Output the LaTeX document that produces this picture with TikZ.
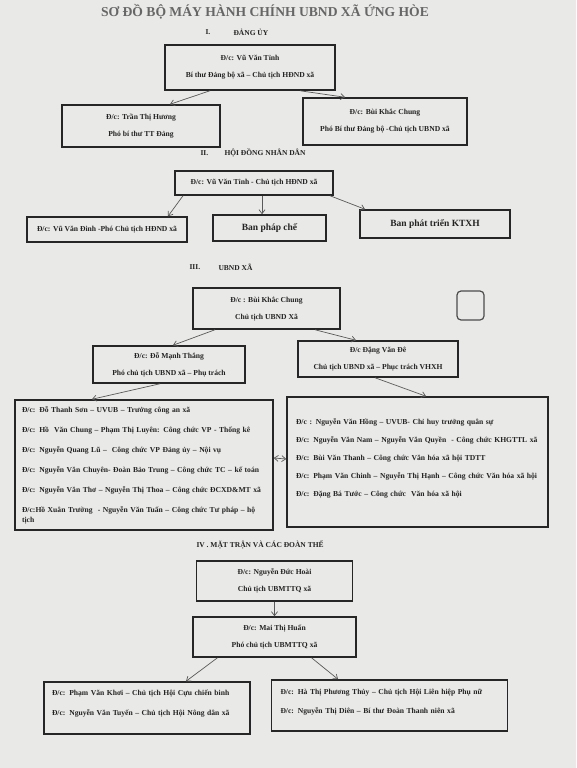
\documentclass[tikz,border=0pt]{standalone}
\usepackage{fontspec}
\setmainfont{Liberation Serif}
\usepackage{tikz}
\usetikzlibrary{arrows.meta}

\definecolor{paper}{RGB}{233,233,231}
\definecolor{ink}{RGB}{35,35,35}

\begin{document}
\begin{tikzpicture}[
    x=1pt, y=-1pt,
    font=\bfseries\fontsize{7.6}{9}\selectfont,
    >={Straight Barb[length=4pt,width=6pt]},
    box/.style 2 args={draw=black!85, line width=1.5pt, align=center, inner sep=0pt,
      text=ink, minimum width=#1, minimum height=#2},
    listbox/.style 2 args={draw=black!85, line width=1.5pt, align=left, inner ysep=0pt,
      inner xsep=7pt, text=ink, text width=#1-14pt, minimum height=#2},
    ptr/.style={->, gray!70!black, line width=0.7pt},
    hd/.style={anchor=west, text=ink, font=\bfseries\fontsize{7.5}{9}\selectfont}
  ]
    \fill[paper] (0,0) rectangle (576,768);

    \node[text=black!60, font=\bfseries\fontsize{13.6}{15}\selectfont] (title) at (265,12)
      {SƠ ĐỒ BỘ MÁY HÀNH CHÍNH UBND XÃ ỨNG HÒE};

    % I. Dang uy
    \node[hd] (h1num) at (202,32) {I.};
    \node[hd] (h1) at (230,32) {ĐẢNG ỦY};
    \node[box={170pt}{45pt}] (tinh) at (250,67.5) {Đ/c: Vũ Văn Tỉnh\\[8pt]Bí thư Đảng bộ xã – Chủ tịch HĐND xã};
    \node[box={158pt}{42pt}] (huong) at (141,126) {Đ/c: Trần Thị Hương\\[8pt]Phó bí thư TT Đảng};
    \node[box={164pt}{47pt}] (chung) at (385,121.5) {Đ/c: Bùi Khắc Chung\\[8pt]Phó Bí thư Đảng bộ -Chủ tịch UBND xã};
    \draw[ptr] ([xshift=-40pt]tinh.south) -- ([xshift=29pt]huong.north);
    \draw[ptr] ([xshift=50pt]tinh.south) -- ([xshift=-40pt]chung.north);

    % II. HDND
    \node[hd] (h2num) at (197,153) {II.};
    \node[hd] (h2) at (221,153) {HỘI ĐỒNG NHÂN DÂN};
    \node[box={158pt}{24pt}] (hdnd) at (254,183) {Đ/c: Vũ Văn Tỉnh - Chủ tịch HĐND xã};
    \node[box={160pt}{25pt}] (dinh) at (107,229.5) {Đ/c: Vũ Văn Đinh -Phó Chủ tịch HĐND xã};
    \node[box={113pt}{26pt}, font=\bfseries\fontsize{9.5}{11}\selectfont] (phapche) at (269.5,228) {Ban pháp chế};
    \node[box={150pt}{28pt}, font=\bfseries\fontsize{9.5}{11}\selectfont] (ktxh) at (435,224) {Ban phát triển KTXH};
    \draw[ptr] ([xshift=-71pt]hdnd.south) -- ([xshift=61pt]dinh.north);
    \draw[ptr] ([xshift=8pt]hdnd.south) -- ([xshift=-7.5pt]phapche.north);
    \draw[ptr] ([xshift=76pt]hdnd.south) -- ([xshift=-70pt]ktxh.north);

    % III. UBND xa
    \node[hd] (h3num) at (186,267) {III.};
    \node[hd] (h3) at (215,267) {UBND XÃ};
    \node[box={147pt}{41pt}] (ubnd) at (266.5,308.5) {Đ/c : Bùi Khắc Chung\\[8pt]Chủ tịch UBND Xã};
    \node[draw=black!70, line width=1.2pt, rounded corners=4pt, minimum width=27pt, minimum height=29pt] (blank) at (470.5,305.5) {};
    \node[box={152pt}{37pt}] (thang) at (169,364.5) {Đ/c: Đỗ Mạnh Thắng\\[8pt]Phó chủ tịch UBND xã – Phụ trách};
    \node[box={160pt}{36pt}] (de) at (378,359) {Đ/c Đặng Văn Đê\\[8pt]Chủ tịch UBND xã – Phục trách VHXH};
    \draw[ptr] ([xshift=-51.5pt]ubnd.south) -- ([xshift=4pt]thang.north);
    \draw[ptr] ([xshift=48.5pt]ubnd.south) -- ([xshift=-22pt]de.north);

    \node[listbox={258pt}{130pt}] (left) at (144,465) {%
      Đ/c: Đỗ Thanh Sơn – UVUB – Trưởng công an xã\\[11pt]
      Đ/c: Hồ \ Văn Chung – Phạm Thị Luyên: Công chức VP - Thống kê\\[11pt]
      Đ/c: Nguyễn Quang Lũ – \ Công chức VP Đảng ủy – Nội vụ\\[11pt]
      Đ/c: Nguyễn Văn Chuyên- Đoàn Bảo Trung – Công chức TC – kế toán\\[11pt]
      Đ/c: Nguyễn Văn Thơ – Nguyễn Thị Thoa – Công chức ĐCXD\&MT xã\\[11pt]
      Đ/c:Hồ Xuân Trường \ - Nguyễn Văn Tuấn – Công chức Tư pháp – hộ\\[1pt]
      tịch};
    \node[listbox={261pt}{130pt}, inner xsep=9pt, text width=243pt] (right) at (417.5,462) {%
      Đ/c : Nguyễn Văn Hồng – UVUB- Chỉ huy trưởng quân sự\\[9pt]
      Đ/c: Nguyễn Văn Nam – Nguyễn Văn Quyền \ - Công chức KHGTTL xã\\[9pt]
      Đ/c: Bùi Văn Thanh – Công chức Văn hóa xã hội TDTT\\[9pt]
      \mbox{Đ/c: Phạm Văn Chinh – Nguyễn Thị Hạnh – Công chức Văn hóa xã hội}\\[9pt]
      Đ/c: Đặng Bá Tước – Công chức \ Văn hóa xã hội\\[-1pt]\mbox{}};
    \draw[ptr] ([xshift=-9pt]thang.south) -- ([xshift=-52pt]left.north);
    \draw[ptr] ([xshift=-3pt]de.south) -- ([xshift=8.5pt]right.north);
    \draw[ptr, <->] ([yshift=7pt]left.east) -- ([yshift=3pt]right.west);

    % IV. Mat tran
    \node[hd] (h4) at (193,545) {IV . MẶT TRẬN VÀ CÁC ĐOÀN THỂ};
    \node[box={156pt}{40pt}] (hoai) at (274.5,581) {Đ/c: Nguyễn Đức Hoài\\[8pt]Chủ tịch UBMTTQ xã};
    \node[box={163pt}{40pt}] (huan) at (274.5,637) {Đ/c: Mai Thị Huấn\\[8pt]Phó chủ tịch UBMTTQ xã};
    \draw[ptr] (hoai.south) -- (huan.north);
    \node[listbox={206pt}{52pt}, inner xsep=8pt, text width=190pt] (doanthe) at (147,708) {%
      Đ/c: Phạm Văn Khơi – Chủ tịch Hội Cựu chiến binh\\[11pt]
      Đ/c: Nguyễn Văn Tuyến – Chủ tịch Hội Nông dân xã\\[1pt]\mbox{}};
    \node[listbox={236pt}{51pt}, inner xsep=9pt, text width=218pt] (phunu) at (389.5,705.5) {%
      Đ/c: Hà Thị Phương Thủy – Chủ tịch Hội Liên hiệp Phụ nữ\\[10pt]
      Đ/c: Nguyễn Thị Diên – Bí thư Đoàn Thanh niên xã\\[-1pt]\mbox{}};
    \draw[ptr] ([xshift=-57pt]huan.south) -- ([xshift=39pt]doanthe.north);
    \draw[ptr] ([xshift=37pt]huan.south) -- ([xshift=-51.5pt]phunu.north);
  \end{tikzpicture}
\end{document}
